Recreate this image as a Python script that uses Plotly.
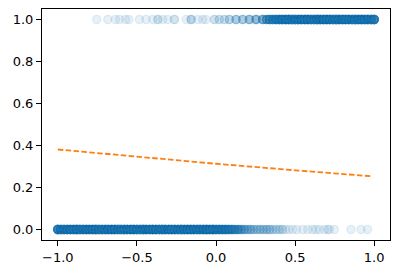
import numpy as np
import plotly.graph_objects as go

# class 0 points (y = 0): x positions and multiplicities
x0_pos = [-1.00,-0.98,-0.96,-0.94,-0.92,-0.90,-0.88,-0.86,-0.84,-0.82,-0.80,-0.78,-0.76,-0.74,
          -0.72,-0.70,-0.68,-0.66,-0.64,-0.62,-0.60,-0.58,-0.56,-0.54,-0.52,-0.50,-0.48,-0.46,
          -0.44,-0.42,-0.40,-0.38,-0.36,-0.34,-0.32,-0.30,-0.28,-0.26,-0.24,-0.22,-0.20,-0.18,
          -0.16,-0.14,-0.12,-0.10,-0.08,-0.06,-0.04,-0.02,0.00,0.02,0.04,0.06,0.08,0.10,
          0.12,0.14,0.16,0.18,0.20,0.22,0.24,0.26,0.28,0.30,0.32,0.34,0.36,0.38,0.40,0.42,
          0.44,0.46,0.485,0.51,0.548,0.58,0.61,0.632,0.653,0.685,0.706,0.716,0.748,0.853,0.916,0.958]
x0_cnt = [18,18,18,18,18,18,18,18,18,18,18,18,18,18,
          18,18,18,18,18,18,18,18,18,18,18,18,18,18,
          18,18,18,18,18,18,18,18,18,18,18,18,18,18,
          18,18,18,18,18,18,18,18,17,16,15,14,12,10,
          9,8,6,5,4,4,3,3,3,3,3,3,2,2,2,2,
          1,1,1,1,1,1,1,1,1,1,1,1,1,1,1,1]

# class 1 points (y = 1): x positions and multiplicities
x1_pos = [-0.754,-0.684,-0.636,-0.61,-0.572,-0.551,-0.484,-0.442,-0.40,-0.368,-0.337,-0.305,
          -0.263,-0.189,-0.157,-0.116,-0.084,-0.063,-0.01,0.021,0.053,0.085,0.127,0.169,
          0.211,0.253,0.295,
          0.32,0.34,0.36,0.38,0.40,0.42,0.44,0.46,0.48,0.50,0.52,0.54,0.56,0.58,0.60,0.62,
          0.64,0.66,0.68,0.70,0.72,0.74,0.76,0.78,0.80,0.82,0.84,0.86,0.88,0.90,0.92,0.94,
          0.96,0.98,1.00]
x1_cnt = [1,1,1,1,1,1,1,1,1,2,1,1,
          2,1,3,1,1,1,2,2,2,3,4,4,
          5,6,7,
          8,10,12,14,16,18,18,18,18,18,18,18,18,18,18,18,
          18,18,18,18,18,18,18,18,18,18,18,18,18,18,18,18,
          18,18,18]

# fitted probability curve
line_x = [-1.0, -0.5, 0.0, 0.5, 0.99]
line_y = [0.381, 0.346, 0.313, 0.282, 0.253]

x0 = np.repeat(x0_pos, x0_cnt)
x1 = np.repeat(x1_pos, x1_cnt)
xs = np.concatenate([x0, x1])
ys = np.concatenate([np.zeros(len(x0)), np.ones(len(x1))])

blue = "rgba(31,119,180,0.1)"
fig = go.Figure()
fig.add_trace(go.Scatter(
    x=xs, y=ys, mode="markers",
    marker=dict(size=8.3, color=blue, line=dict(color=blue, width=1.3)),
    showlegend=False, hoverinfo="skip"))
fig.add_trace(go.Scatter(
    x=line_x, y=line_y, mode="lines",
    line=dict(color="#ff7f0e", width=1.8, dash="5.5px,2.4px"),
    showlegend=False))

axis_common = dict(showgrid=False, zeroline=False, showline=True, mirror=True,
                   linecolor="black", linewidth=1, ticks="outside", ticklen=5,
                   tickcolor="black", tickwidth=1,
                   tickfont=dict(family="DejaVu Sans", size=13, color="black"))
fig.update_xaxes(range=[-1.1, 1.1], tickvals=[-1.0, -0.5, 0.0, 0.5, 1.0],
                 ticktext=["−1.0", "−0.5", "0.0", "0.5", "1.0"], **axis_common)
fig.update_yaxes(range=[-0.05, 1.05], tickvals=[0, 0.2, 0.4, 0.6, 0.8, 1.0],
                 ticktext=["0.0", "0.2", "0.4", "0.6", "0.8", "1.0"], **axis_common)
fig.update_layout(width=400, height=274, margin=dict(l=42, r=10, t=9, b=34),
                  plot_bgcolor="white", paper_bgcolor="white")
fig.write_html("out.html")
